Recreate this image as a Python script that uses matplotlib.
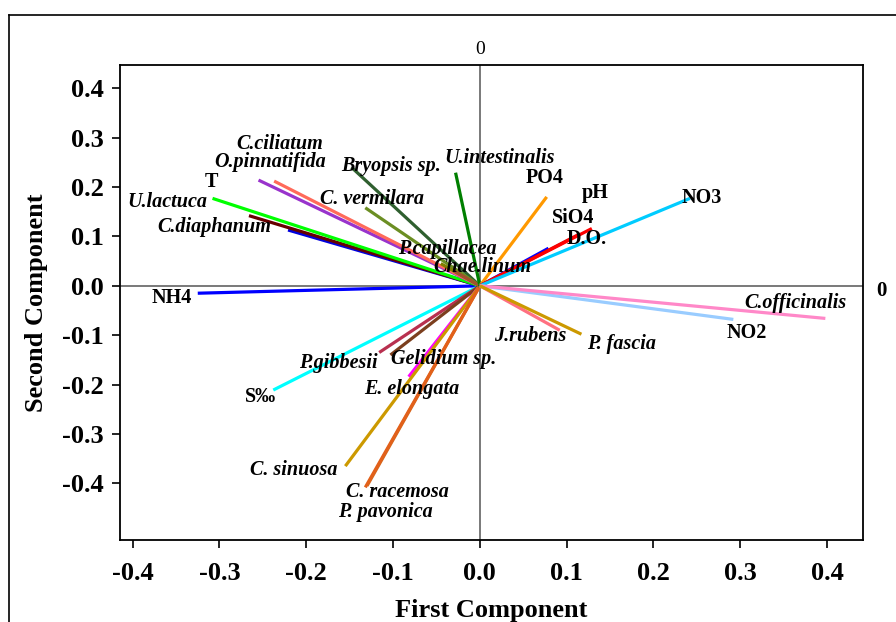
import matplotlib
matplotlib.use('Agg')
import matplotlib.pyplot as plt
from matplotlib.lines import Line2D

plt.rcParams['font.family'] = ['Liberation Serif', 'DejaVu Serif']

# vector names, loadings on the two components
names = ['NH4', 'S‰', 'P.gibbesii', 'Gelidium sp.', 'E. elongata', 'C. sinuosa',
         'P. pavonica', 'C. racemosa', 'T', 'C.diaphanum', 'U.lactuca',
         'O.pinnatifida', 'C.ciliatum', 'Bryopsis sp.', 'C. vermilara',
         'P.capillacea', 'Chae.linum', 'U.intestinalis', 'PO4', 'SiO4', 'D.O.',
         'pH', 'NO3', 'NO2', 'C.officinalis', 'J.rubens', 'P. fascia']
pc1 = [-0.325, -0.238, -0.116, -0.103, -0.082, -0.155,
       -0.130, -0.132, -0.221, -0.266, -0.308,
       -0.255, -0.237, -0.148, -0.132,
       -0.045, -0.030, -0.028, 0.077, 0.079, 0.115,
       0.129, 0.242, 0.292, 0.398, 0.092, 0.117]
pc2 = [-0.015, -0.211, -0.135, -0.140, -0.184, -0.365,
       -0.405, -0.408, 0.113, 0.142, 0.177,
       0.214, 0.212, 0.240, 0.158,
       0.045, 0.030, 0.229, 0.180, 0.076, 0.105,
       0.116, 0.177, -0.068, -0.066, -0.090, -0.098]
colors = ['#0000FF', '#00FFFF', '#B8304F', '#7B3F1E', '#FF00FF', '#CC9900',
          '#D2691E', '#E2601A', '#0000DD', '#660000', '#00FF00',
          '#9933CC', '#FF6A5A', '#2F5F2F', '#6B8E23',
          '#808000', '#A0522D', '#007F00', '#FF9900', '#0000FF', '#E00000',
          '#FF0000', '#00CCFF', '#99CCFF', '#FF88C8', '#FF7080', '#CC9900']
italic = [False, False, True, True, True, True,
          True, True, False, True, True,
          True, True, True, True,
          True, True, True, False, False, False,
          False, False, False, True, True, True]
# label anchor points (data units)
label_x = [-0.355, -0.253, -0.163, -0.042, -0.078, -0.214,
           -0.109, -0.095, -0.309, -0.306, -0.360,
           -0.242, -0.231, -0.102, -0.124,
           -0.037, 0.003, 0.023, 0.075, 0.108, 0.123,
           0.133, 0.256, 0.307, 0.363, 0.058, 0.163]
label_y = [-0.025, -0.225, -0.156, -0.148, -0.208, -0.372,
           -0.458, -0.417, 0.210, 0.119, 0.170,
           0.251, 0.288, 0.242, 0.176,
           0.074, 0.038, 0.259, 0.218, 0.137, 0.095,
           0.188, 0.178, -0.095, -0.035, -0.102, -0.118]

xticks = [-0.4, -0.3, -0.2, -0.1, 0.0, 0.1, 0.2, 0.3, 0.4]
yticks = [-0.4, -0.3, -0.2, -0.1, 0.0, 0.1, 0.2, 0.3, 0.4]

fig = plt.figure(figsize=(8.96, 6.22), dpi=100)
ax = fig.add_axes([0.1343, 0.1318, 0.8289, 0.7637])

ax.axhline(0, color='#555555', lw=1.1, zorder=1)
ax.axvline(0, color='#555555', lw=1.1, zorder=1)

for i in range(len(names)):
    ax.plot([0, pc1[i]], [0, pc2[i]], color=colors[i], lw=2.3,
            solid_capstyle='butt', zorder=2)
    ax.text(label_x[i], label_y[i], names[i], ha='center', va='center',
            fontsize=14.5, fontweight='bold',
            fontstyle='italic' if italic[i] else 'normal', zorder=3)

ax.set_xlim(-0.4142, 0.4414)
ax.set_ylim(-0.5146, 0.447)
ax.set_xticks(xticks)
ax.set_xticklabels([f'{t:.1f}' for t in xticks])
ax.set_yticks(yticks)
ax.set_yticklabels([f'{t:.1f}' for t in yticks])
ax.tick_params(direction='out', length=6, width=1.2, labelsize=19, pad=6)
ax.tick_params(axis='x', pad=10)
for lab in ax.get_xticklabels() + ax.get_yticklabels():
    lab.set_fontweight('bold')
for s in ax.spines.values():
    s.set_linewidth(1.3)

ax.set_xlabel('First Component', fontsize=19, fontweight='bold', labelpad=10)
ax.set_ylabel('Second Component', fontsize=19, fontweight='bold', labelpad=10)

# "0" markers on the opposite axes
ax.text(0, 1.015, '0', transform=ax.get_xaxis_transform(), ha='center',
        va='bottom', fontsize=14)
ax.text(1.018, -0.01, '0', transform=ax.get_yaxis_transform(), ha='left',
        va='center', fontsize=15, fontweight='bold')

# outer frame (top and left edges visible)
fx = 9 / 896
fy = 1 - 15 / 622
fig.add_artist(Line2D([fx, 1.0], [fy, fy], color='black', lw=1.2,
                      transform=fig.transFigure))
fig.add_artist(Line2D([fx, fx], [0.0, fy], color='black', lw=1.2,
                      transform=fig.transFigure))

fig.savefig('out.png', dpi=100)
